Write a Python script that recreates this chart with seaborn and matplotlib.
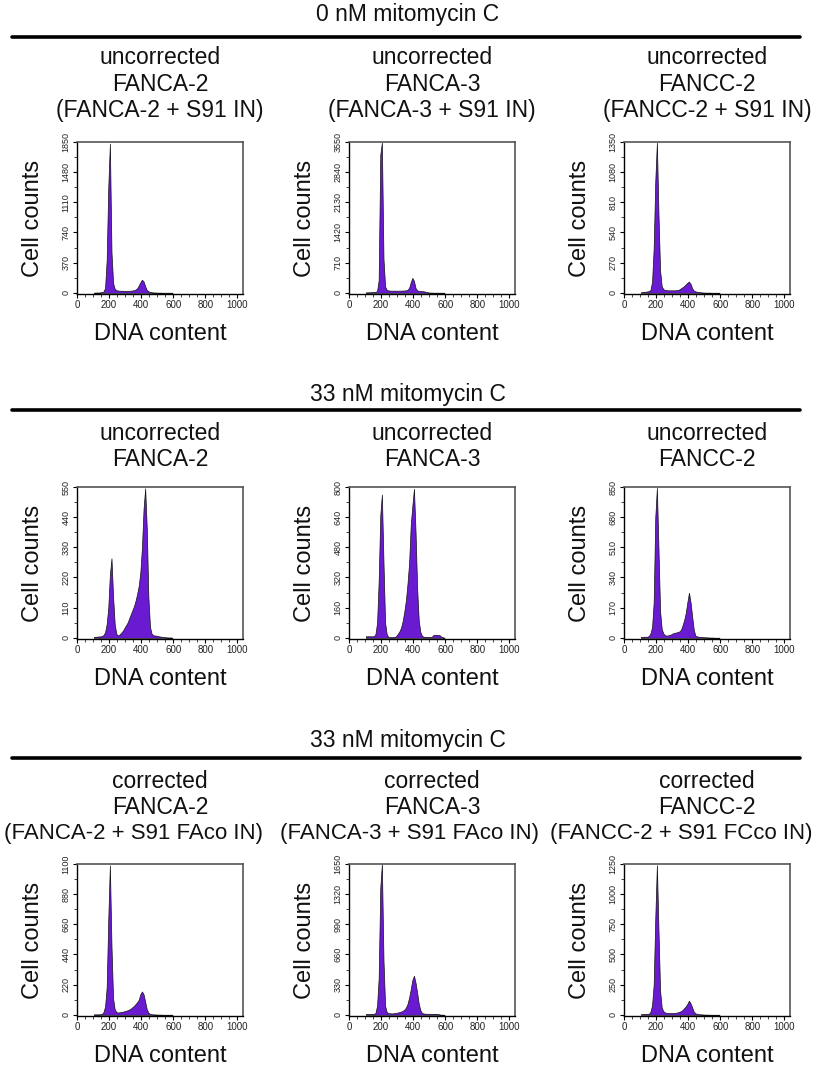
import numpy as np
import pandas as pd
import matplotlib
matplotlib.use("Agg")
import matplotlib.pyplot as plt
from matplotlib.lines import Line2D
from matplotlib.ticker import MultipleLocator, FixedLocator
import seaborn as sns

sns.set_theme(style="white")
plt.rcParams['font.family'] = ['Liberation Sans', 'DejaVu Sans']

# ---------------- data ----------------
section_titles = ["0 nM mitomycin C", "33 nM mitomycin C", "33 nM mitomycin C"]

panel_titles = [
    "uncorrected\nFANCA-2\n(FANCA-2 + S91 IN)",
    "uncorrected\nFANCA-3\n(FANCA-3 + S91 IN)",
    "uncorrected\nFANCC-2\n(FANCC-2 + S91 IN)",
    "uncorrected\nFANCA-2",
    "uncorrected\nFANCA-3",
    "uncorrected\nFANCC-2",
    "corrected\nFANCA-2\n(FANCA-2 + S91 FAco IN)",
    "corrected\nFANCA-3\n(FANCA-3 + S91 FAco IN)",
    "corrected\nFANCC-2\n(FANCC-2 + S91 FCco IN)",
]

y_max = [1850, 3550, 1350, 550, 800, 850, 1100, 1650, 1250]

# DNA content bins (centres of 10-unit bins)
dna_bin_centers = [105, 115, 125, 135, 145, 155, 165, 175, 185, 195,
                   205, 215, 225, 235, 245, 255, 265, 275, 285, 295,
                   305, 315, 325, 335, 345, 355, 365, 375, 385, 395,
                   405, 415, 425, 435, 445, 455, 465, 475, 485, 495,
                   505, 515, 525, 535, 545, 555, 565, 575, 585, 595]

counts_0nM_fanca2 = [2, 2, 3, 3, 5, 8, 15, 60, 400, 1300,
                     1830, 500, 120, 50, 32, 28, 26, 25, 25, 24,
                     24, 24, 25, 26, 28, 32, 40, 55, 90, 130,
                     160, 140, 80, 35, 18, 10, 7, 4, 3, 2,
                     1, 1, 1, 0, 0, 0, 0, 0, 0, 0]
counts_0nM_fanca3 = [10, 10, 12, 12, 15, 15, 20, 40, 300, 3250,
                     3540, 800, 150, 70, 55, 52, 50, 50, 50, 50,
                     50, 50, 52, 52, 55, 58, 70, 120, 250, 350,
                     280, 110, 55, 45, 42, 40, 35, 28, 18, 8,
                     4, 2, 2, 1, 1, 1, 0, 0, 0, 0]
counts_0nM_fancc2 = [5, 6, 8, 10, 12, 15, 25, 100, 400, 1000,
                     1345, 700, 200, 60, 32, 26, 24, 22, 22, 22,
                     22, 22, 23, 25, 30, 40, 50, 60, 75, 90,
                     100, 80, 40, 20, 12, 10, 7, 5, 3, 2,
                     1, 1, 1, 1, 0, 0, 0, 0, 0, 0]
counts_33nM_fanca2 = [3, 4, 4, 5, 5, 6, 10, 20, 50, 110,
                      230, 290, 150, 50, 15, 8, 12, 18, 25, 35,
                      45, 55, 70, 85, 100, 115, 135, 160, 190, 240,
                      330, 470, 545, 400, 150, 40, 15, 10, 8, 8,
                      6, 5, 4, 3, 2, 2, 1, 1, 1, 0]
counts_33nM_fanca3 = [8, 8, 8, 8, 8, 8, 20, 80, 300, 650,
                      760, 400, 80, 20, 4, 3, 3, 3, 4, 10,
                      22, 35, 55, 90, 140, 200, 290, 400, 600, 700,
                      790, 560, 260, 90, 30, 10, 6, 5, 4, 4,
                      4, 4, 14, 16, 16, 15, 14, 6, 2, 1]
counts_33nM_fancc2 = [5, 5, 6, 6, 6, 10, 25, 60, 200, 680,
                      845, 500, 150, 50, 25, 15, 12, 14, 16, 20,
                      25, 28, 30, 32, 36, 45, 70, 100, 140, 200,
                      254, 200, 120, 45, 12, 8, 6, 5, 4, 3,
                      3, 2, 2, 1, 1, 1, 0, 0, 0, 0]
counts_corr_fanca2 = [3, 3, 3, 3, 4, 5, 20, 60, 200, 700,
                      1090, 500, 120, 40, 20, 17, 18, 20, 22, 26,
                      29, 33, 38, 45, 55, 65, 78, 92, 110, 150,
                      170, 150, 95, 40, 15, 6, 4, 3, 2, 2,
                      1, 1, 1, 0, 0, 0, 0, 0, 0, 0]
counts_corr_fanca3 = [8, 8, 8, 8, 8, 10, 20, 100, 400, 1390,
                      1650, 600, 100, 30, 18, 16, 15, 15, 20, 22,
                      25, 30, 35, 44, 55, 80, 120, 190, 280, 380,
                      427, 350, 240, 120, 50, 20, 14, 12, 11, 11,
                      11, 10, 10, 10, 10, 8, 3, 1, 0, 0]
counts_corr_fancc2 = [5, 5, 6, 6, 7, 8, 25, 80, 250, 800,
                      1240, 700, 200, 60, 30, 20, 16, 14, 14, 14,
                      14, 15, 17, 20, 25, 30, 40, 55, 70, 90,
                      117, 95, 60, 25, 12, 8, 5, 4, 3, 2,
                      1, 1, 1, 0, 0, 0, 0, 0, 0, 0]

all_counts = [counts_0nM_fanca2, counts_0nM_fanca3, counts_0nM_fancc2,
              counts_33nM_fanca2, counts_33nM_fanca3, counts_33nM_fancc2,
              counts_corr_fanca2, counts_corr_fanca3, counts_corr_fancc2]

x_ticks = [0, 200, 400, 600, 800, 1000]

# ---------------- layout ----------------
W, H = 816, 1072
fig = plt.figure(figsize=(W / 100, H / 100), dpi=100)
fig.patch.set_facecolor("white")

col_left = [77, 349, 624]
ax_w = 166
row_top = [142, 487, 864]
ax_h = 152

section_y = [15, 394, 741]
line_y = [37, 410, 758]
title_top = [58, 433, 781]
line_step = 26
# centres for the long third title line of the bottom row (shifted to fit)
long_line_cx = [133, 409, 681]

fill_color = "#6a1bd2"
bin_edges = [c - 5 for c in dna_bin_centers] + [dna_bin_centers[-1] + 5]

for r in range(3):
    fig.text(408 / W, 1 - section_y[r] / H, section_titles[r], ha="center",
             va="center", fontsize=16.5, color="#111111")
    fig.add_artist(Line2D([12 / W, 800 / W], [1 - line_y[r] / H] * 2,
                          transform=fig.transFigure, color="black", lw=2.6))

for i in range(9):
    r, c = divmod(i, 3)
    l, t = col_left[c], row_top[r]
    ax = fig.add_axes([l / W, 1 - (t + ax_h) / H, ax_w / W, ax_h / H])
    df = pd.DataFrame({"dna": dna_bin_centers, "count": all_counts[i]})
    sns.histplot(data=df, x="dna", weights="count", bins=bin_edges,
                 element="poly", fill=True, color=fill_color, alpha=1.0,
                 edgecolor="#111111", linewidth=0.5, ax=ax)
    m = y_max[i]
    ax.set_xlim(0, 1035)
    ax.set_ylim(-0.008 * m, m)
    ax.xaxis.set_major_locator(FixedLocator(x_ticks))
    ax.xaxis.set_minor_locator(MultipleLocator(50))
    yt = [round(m * k / 5) for k in range(6)]
    ax.yaxis.set_major_locator(FixedLocator(yt))
    ax.yaxis.set_minor_locator(FixedLocator([m * (k + 0.5) / 5 for k in range(5)]))
    ax.tick_params(axis="both", which="major", direction="out", length=3,
                   width=0.8, labelsize=7, pad=1.5, colors="black",
                   labelcolor="#222222", bottom=True, left=True)
    ax.tick_params(axis="y", which="major", labelsize=6.5)
    ax.tick_params(axis="both", which="minor", direction="out", length=2,
                   width=0.6, bottom=True, left=True)
    for lab in ax.get_yticklabels():
        lab.set_rotation(90)
        lab.set_va("center")
    ax.set_xlabel("DNA content", fontsize=17, labelpad=9, color="#111111")
    ax.set_ylabel("Cell counts", fontsize=17, labelpad=13, color="#111111")
    for side in ["left", "bottom"]:
        ax.spines[side].set_color("black")
        ax.spines[side].set_linewidth(1.0)
    for side in ["top", "right"]:
        ax.spines[side].set_color("#555555")
        ax.spines[side].set_linewidth(1.2)
    ax.set_facecolor("white")

    # panel title lines
    cx = l + ax_w / 2
    for k, line in enumerate(panel_titles[i].split("\n")):
        x = cx
        fs = 16.5
        if r == 2 and k == 2:
            x = long_line_cx[c]
            fs = 16
        fig.text(x / W, 1 - (title_top[r] + k * line_step) / H, line,
                 ha="center", va="center", fontsize=fs, color="#111111")

fig.savefig("out.png", dpi=100, facecolor="white")
